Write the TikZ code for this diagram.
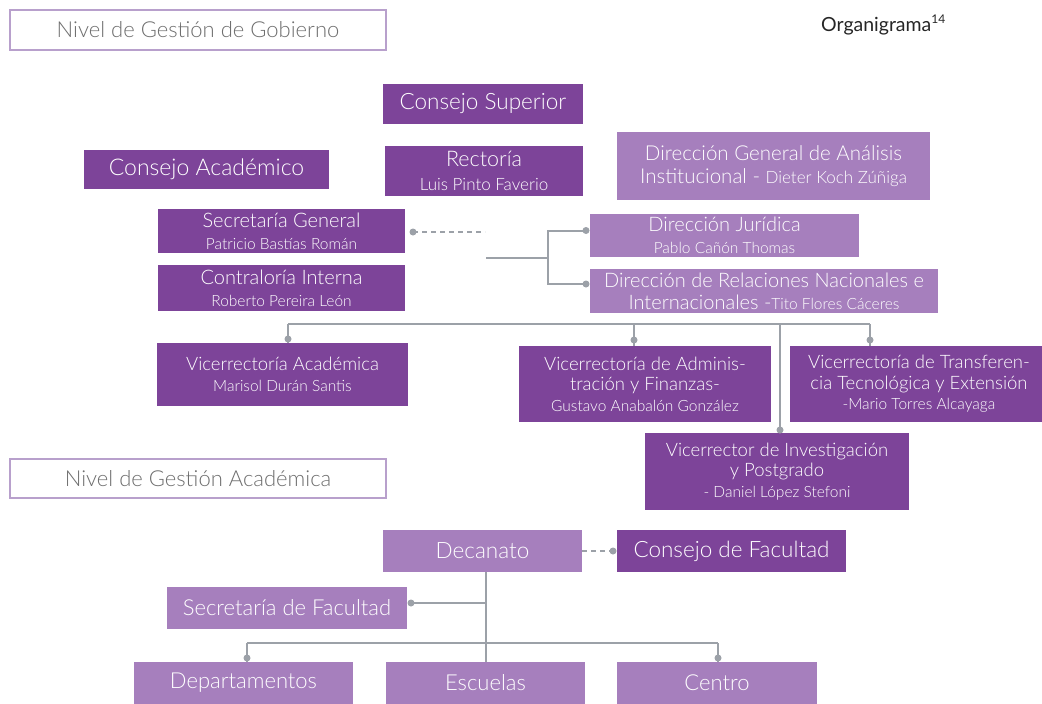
\documentclass[tikz,border=0pt]{standalone}
\usepackage{fontspec}
\setmainfont{Lato Light}
\newfontfamily\latoreg{Lato}
\usetikzlibrary{calc}
\definecolor{dp}{HTML}{7D4499}
\definecolor{lp}{HTML}{A67FBD}
\definecolor{ln}{HTML}{9CA1A8}
\definecolor{fr}{HTML}{B8A0CC}
\definecolor{gt}{HTML}{6E6E6E}
\newcommand\bx[7]{\node[#6, minimum width={(#4-#2)*1pt}, minimum height={(#5-#3)*1pt}] (#1) at ({(#2+#4)/2},{(#3+#5)/2}) {#7};}
\newcommand\nm[1]{{\fontsize{17}{19}\selectfont #1}}
\newcommand\nms[1]{{\fontsize{15.5}{18}\selectfont #1}}
\begin{document}
\begin{tikzpicture}[x=1pt,y=-1pt,
  box/.style={inner sep=0pt, outer sep=0pt, align=center, text=white, font=\fontsize{20}{22}\selectfont},
  vbox/.style={box, font=\fontsize{18.5}{20.5}\selectfont},
  dk/.style={box, fill=dp},
  lt/.style={box, fill=lp},
  big/.style={font=\fontsize{22.5}{25}\selectfont},
  lvl/.style={draw=fr, line width=2pt, fill=white, text=gt, inner sep=0pt, outer sep=0pt, font=\fontsize{22}{25}\selectfont},
  conn/.style={draw=ln, line width=2pt},
  dsh/.style={conn, dash pattern=on 5pt off 4pt},
  dot/.style={fill=ln, circle, inner sep=0pt, minimum size=7pt}]
\clip (0,0) rectangle (1042,704);
\useasboundingbox (0,0) rectangle (1042,704);
\fill[white] (0,0) rectangle (1042,704);

\bx{nivG}{10}{10}{386}{50}{lvl}{Nivel de Gestión de Gobierno}
\node[text=black!85, font=\latoreg\fontsize{19.5}{22}\selectfont, anchor=west, inner sep=0pt] (org) at (821,25) {Organigrama\raisebox{0.45em}{\fontsize{12}{12}\selectfont 14}};
\bx{cs}{383}{84}{583}{124}{dk,big}{Consejo Superior}
\bx{ca}{84}{150}{329}{189}{dk,font=\fontsize{23}{25}\selectfont}{Consejo Académico}
\bx{rec}{385}{146}{583}{196}{dk,font=\fontsize{21.5}{24}\selectfont}{Rectoría\\\nm{Luis Pinto Faverio}}
\bx{dga}{617}{132}{930}{200}{lt,font=\fontsize{20.5}{23}\selectfont}{Dirección General de Análisis\\Institucional - \nm{Dieter Koch Zúñiga}}
\bx{sg}{158}{209}{405}{253}{dk}{Secretaría General\\\nms{Patricio Bastías Román}}
\bx{ci}{158}{265}{405}{311}{dk}{Contraloría Interna\\\nms{Roberto Pereira León}}
\bx{dj}{590}{214}{859}{257}{lt}{Dirección Jurídica\\\nms{Pablo Cañón Thomas}}
\bx{dr}{590}{269}{938}{313}{lt}{Dirección de Relaciones Nacionales e\\Internacionales -\nms{Tito Flores Cáceres}}
\bx{va}{157}{343}{408}{406}{dk,vbox}{Vicerrectoría Académica\\\nms{Marisol Durán Santis}}
\bx{vaf}{519}{346}{771}{422}{dk,vbox}{Vicerrectoría de Adminis-\\tración y Finanzas-\\\nms{Gustavo Anabalón González}}
\bx{vt}{790}{346}{1048}{422}{dk,vbox}{Vicerrectoría de Transferen-\\cia Tecnológica y Extensión\\\nms{-Mario Torres Alcayaga}}
\bx{vip}{645}{433}{909}{510}{dk,vbox}{Vicerrector de Investigación\\y Postgrado\\\nms{- Daniel López Stefoni}}
\bx{nivA}{10}{459}{386}{498}{lvl}{Nivel de Gestión Académica}
\bx{dec}{383}{530}{582}{572}{lt,big}{Decanato}
\bx{cf}{617}{530}{846}{572}{dk,big}{Consejo de Facultad}
\bx{sf}{167}{587}{407}{629}{lt,font=\fontsize{22}{25}\selectfont}{Secretaría de Facultad}
\bx{dep}{134}{662}{353}{704}{lt,font=\fontsize{22}{25}\selectfont}{Departamentos}
\bx{esc}{386}{662}{585}{704}{lt,font=\fontsize{22}{25}\selectfont}{Escuelas}
\bx{cen}{617}{662}{817}{704}{lt,font=\fontsize{22}{25}\selectfont}{Centro}

% upper connectors
\coordinate (sgd) at ($(sg.east)+(8,1)$);
\coordinate (sge) at (485,232);
\draw[dsh] (sgd) -- (sge);
\node[dot] at (sgd) {};
\coordinate (stubL) at (486,258);
\coordinate (fork) at (548,258);
\coordinate (djd) at ($(dj.west)+(-4,-5)$);
\coordinate (drd) at ($(dr.west)+(-4,-7)$);
\draw[conn] (stubL) -- (fork);
\draw[conn] (fork) |- (djd);
\draw[conn] (fork) |- (drd);
\node[dot] at (djd) {};
\node[dot] at (drd) {};

\coordinate (b1) at (288,324);
\coordinate (b2) at (634,324);
\coordinate (b3) at (870,324);
\coordinate (b4) at (780,324);
\draw[conn] (b1) -- (b3);
\draw[conn] (b1) -- (va.north -| b1);
\draw[conn] (b2) -- (vaf.north -| b2);
\draw[conn] (b3) -- (vt.north -| b3);
\draw[conn] (b4) -- (vip.north -| b4);
\node[dot] at ($(va.north -| b1)+(0,-4)$) {};
\node[dot] at ($(vaf.north -| b2)+(0,-6)$) {};
\node[dot] at ($(vt.north -| b3)+(0,-6)$) {};
\node[dot] at ($(vip.north -| b4)+(0,-3)$) {};

% lower connectors
\coordinate (cfd) at ($(cf.west)+(-4,0)$);
\draw[dsh] (dec.east) -- (cfd);
\node[dot] at (cfd) {};
\draw[conn] (dec.south -| esc.north) -- (esc.north);
\coordinate (sfd) at ($(sf.east)+(4,-5)$);
\draw[conn] (sfd) -- (sfd -| esc.north);
\node[dot] at (sfd) {};
\coordinate (c1) at (247,643);
\coordinate (c2) at (718,643);
\draw[conn] (c1) -- (c2);
\draw[conn] (c1) -- (dep.north -| c1);
\draw[conn] (c2) -- (cen.north -| c2);
\node[dot] at ($(dep.north -| c1)+(0,-4)$) {};
\node[dot] at ($(cen.north -| c2)+(0,-4)$) {};
\end{tikzpicture}
\end{document}
